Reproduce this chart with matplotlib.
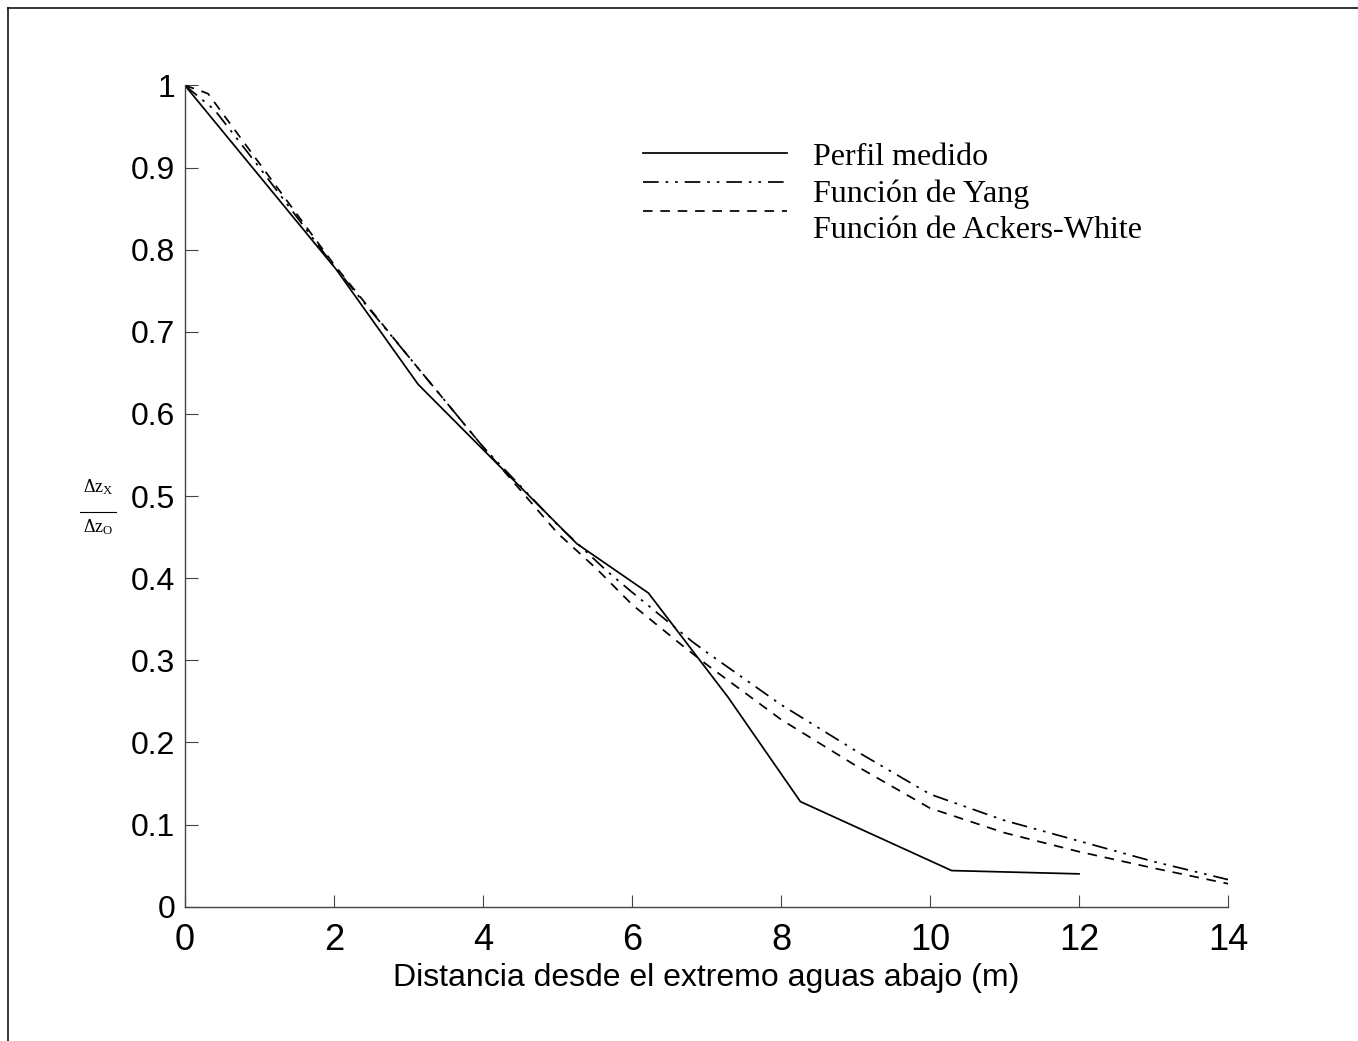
import matplotlib
matplotlib.use("Agg")
import matplotlib.pyplot as plt
from matplotlib.lines import Line2D

# data
x_medido = [0, 2.03, 3.13, 5.26, 6.22, 7.29, 8.26, 10.29, 12.0]
y_medido = [1.0, 0.776, 0.636, 0.442, 0.382, 0.255, 0.128, 0.044, 0.040]

x_yang = [0, 0.4, 1, 2, 3, 4, 5, 5.66, 6, 6.82, 7, 8, 9, 10, 11, 12, 13, 14]
y_yang = [1.0, 0.97, 0.9, 0.78, 0.67, 0.56, 0.465, 0.409, 0.383, 0.322, 0.31,
          0.246, 0.19, 0.137, 0.105, 0.08, 0.055, 0.033]

x_ackers = [0, 0.13, 0.31, 1, 2, 3, 4, 5, 5.53, 6, 6.69, 7, 8, 9, 10, 11, 12, 13, 14]
y_ackers = [1.0, 0.996, 0.99, 0.905, 0.782, 0.67, 0.56, 0.455, 0.411, 0.368,
            0.317, 0.295, 0.228, 0.172, 0.12, 0.09, 0.067, 0.047, 0.028]

labels = ["Perfil medido", "Función de Yang", "Función de Ackers-White"]
xticks = [0, 2, 4, 6, 8, 10, 12, 14]
yticks = [0, 0.1, 0.2, 0.3, 0.4, 0.5, 0.6, 0.7, 0.8, 0.9, 1]

plt.rcParams['font.family'] = ['Liberation Sans', 'DejaVu Sans']
plt.rcParams['mathtext.fontset'] = 'custom'
plt.rcParams['mathtext.rm'] = 'Liberation Serif'
plt.rcParams['mathtext.it'] = 'Liberation Serif:italic'

W, H = 1358, 1041
fig = plt.figure(figsize=(W / 100, H / 100), dpi=100)
ax = fig.add_axes([0.1362, 0.129, 0.7681, 0.7889])

dashdotdot = (0, (9, 4, 1.5, 4, 1.5, 4))
dashed = (0, (5.5, 4.5))
styles = ['-', dashdotdot, dashed]
lw = 1.25

ax.plot(x_medido, y_medido, color='black', lw=lw, linestyle=styles[0])
ax.plot(x_yang, y_yang, color='black', lw=lw, linestyle=styles[1])
ax.plot(x_ackers, y_ackers, color='black', lw=lw, linestyle=styles[2])

ax.set_xlim(0, 14)
ax.set_ylim(0, 1)
ax.set_xticks(xticks)
ax.set_yticks(yticks)
ax.set_xticklabels([f"{v:g}" for v in xticks], fontsize=26)
ax.set_yticklabels([f"{v:g}" for v in yticks], fontsize=23)
ax.tick_params(axis='both', direction='in', length=9, width=0.8, color='#444444')
ax.tick_params(axis='y', pad=7)
ax.tick_params(axis='x', pad=12)

for s in ['top', 'right']:
    ax.spines[s].set_visible(False)
for s in ['left', 'bottom']:
    ax.spines[s].set_color('#444444')
    ax.spines[s].set_linewidth(1.0)

ax.set_xlabel("Distancia desde el extremo aguas abajo (m)", fontsize=23, labelpad=3)

# y label: small stacked fraction, as in the original
fig.text(98 / W, 1 - 492 / H, r'$\mathit{Δ}\mathrm{z}_{\mathrm{X}}$', fontsize=13,
         ha='center', va='baseline')
fig.text(98 / W, 1 - 532 / H, r'$\mathit{Δ}\mathrm{z}_{\mathrm{O}}$', fontsize=13,
         ha='center', va='baseline')
fig.add_artist(Line2D([80 / W, 116 / W], [1 - 512 / H, 1 - 512 / H],
                      transform=fig.transFigure, color='black', lw=0.8))

# legend drawn by hand (handles and texts are offset like the original)
handle_y = [0.918, 0.882, 0.847]
text_y = [0.912, 0.868, 0.824]
for st, hy, ty, lab in zip(styles, handle_y, text_y, labels):
    ax.add_line(Line2D([0.4392, 0.577], [hy, hy], transform=ax.transAxes,
                       color='black', lw=lw, linestyle=st))
    ax.text(0.602, ty, lab, transform=ax.transAxes, fontsize=23,
            family=['Liberation Serif', 'DejaVu Serif'], va='center', ha='left')

# outer frame (only left and top edges show)
fig.add_artist(Line2D([8 / W, 8 / W], [0, 1 - 8 / H], transform=fig.transFigure,
                      color='black', lw=1.1))
fig.add_artist(Line2D([8 / W, 1], [1 - 8 / H, 1 - 8 / H], transform=fig.transFigure,
                      color='black', lw=1.1))

fig.savefig("out.png", dpi=100)
